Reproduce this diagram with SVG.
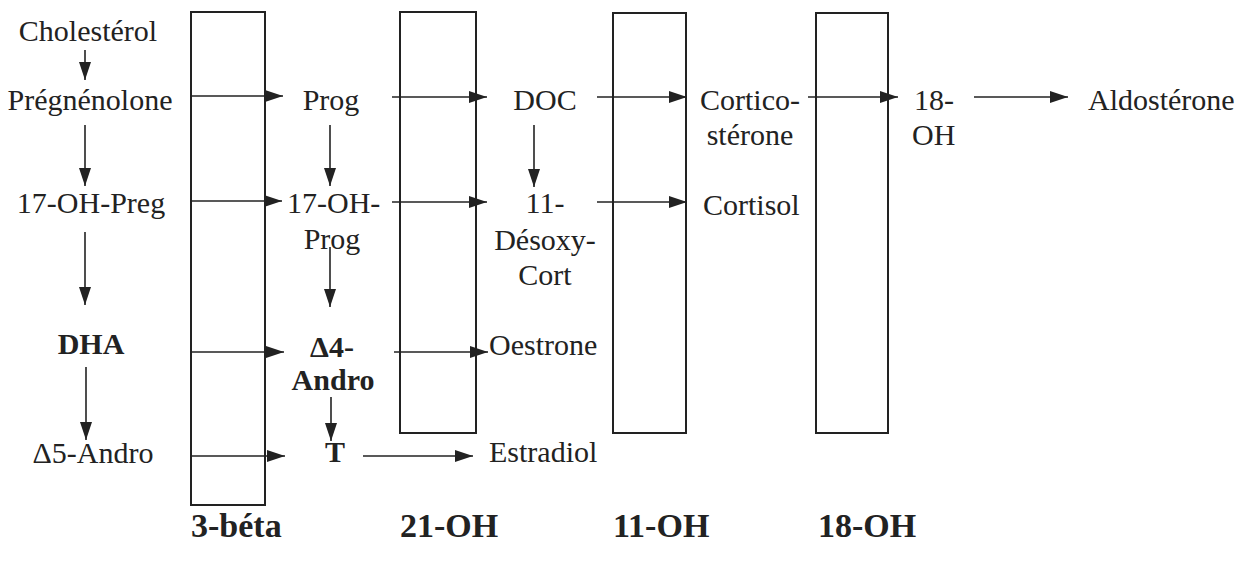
<svg xmlns="http://www.w3.org/2000/svg" width="1236" height="562" viewBox="0 0 1236 562" font-family="'Liberation Serif', 'DejaVu Serif', serif">
<style>
text{font-family:'Liberation Serif','DejaVu Serif',serif;font-size:30px;fill:#222}
.b{font-weight:bold}
.lab{font-weight:bold;font-size:34px}
.m{text-anchor:middle}
.box{fill:none;stroke:#222;stroke-width:2}
.c line{stroke:#222;stroke-width:1.6;marker-end:url(#ah)}
</style>
<defs>
<marker id="ah" markerUnits="userSpaceOnUse" markerWidth="18" markerHeight="12" refX="18" refY="6" orient="auto">
<path d="M0,0 L18,6 L0,12 z" fill="#222"/>
</marker>
</defs>
<rect width="1236" height="562" fill="#fff"/>
<g id="enzymes">
<g id="e3beta"><rect class="box" x="191" y="12" width="74" height="493"/><text class="lab" x="191" y="537">3-béta</text></g>
<g id="e21oh"><rect class="box" x="400" y="12" width="76" height="421"/><text class="lab" x="400" y="537">21-OH</text></g>
<g id="e11oh"><rect class="box" x="613" y="13" width="73" height="420"/><text class="lab" x="613" y="537">11-OH</text></g>
<g id="e18oh"><rect class="box" x="816" y="13" width="72" height="420"/><text class="lab" x="818" y="537">18-OH</text></g>
</g>
<g class="c" id="connectors">
<line x1="85" y1="50" x2="85" y2="80"/>
<line x1="85" y1="125" x2="85" y2="186"/>
<line x1="85" y1="232" x2="85" y2="305"/>
<line x1="86" y1="367" x2="86" y2="440"/>
<line x1="330" y1="125" x2="330" y2="186"/>
<line x1="330" y1="247" x2="330" y2="307"/>
<line x1="331" y1="397" x2="331" y2="441"/>
<line x1="534" y1="125" x2="534" y2="187"/>
<line x1="190" y1="96" x2="283" y2="96"/>
<line x1="392" y1="97" x2="487" y2="97"/>
<line x1="597" y1="97" x2="687" y2="97"/>
<line x1="808" y1="97" x2="898" y2="97"/>
<line x1="974" y1="97" x2="1068" y2="97"/>
<line x1="190" y1="201" x2="282" y2="201"/>
<line x1="392" y1="202" x2="487" y2="202"/>
<line x1="597" y1="202" x2="687" y2="202"/>
<line x1="192" y1="352" x2="284" y2="352"/>
<line x1="394" y1="352" x2="488" y2="352"/>
<line x1="192" y1="456" x2="285" y2="456"/>
<line x1="363" y1="456" x2="473" y2="456"/>
</g>
<g id="n-cholesterol"><text class="m" x="88" y="41">Cholestérol</text></g>
<g id="n-pregnenolone"><text class="m" x="90" y="110">Prégnénolone</text></g>
<g id="n-17ohpreg"><text class="m" x="91" y="213">17-OH-Preg</text></g>
<g id="n-dha"><text class="m b" x="91" y="354">DHA</text></g>
<g id="n-d5andro"><text class="m" x="93" y="463">Δ5-Andro</text></g>
<g id="n-prog"><text class="m" x="331" y="110">Prog</text></g>
<g id="n-17ohprog"><text x="287" y="213">17-OH-</text><text class="m" x="332" y="249">Prog</text></g>
<g id="n-d4andro"><text class="m b" x="332" y="357">Δ4-</text><text class="m b" x="333" y="390">Andro</text></g>
<g id="n-t"><text class="m b" x="335" y="462">T</text></g>
<g id="n-doc"><text class="m" x="545" y="110">DOC</text></g>
<g id="n-11desoxycort"><text class="m" x="545" y="213">11-</text><text class="m" x="545" y="250">Désoxy-</text><text class="m" x="545" y="285">Cort</text></g>
<g id="n-oestrone"><text x="489" y="355">Oestrone</text></g>
<g id="n-estradiol"><text x="489" y="462">Estradiol</text></g>
<g id="n-corticosterone"><text class="m" x="750" y="110">Cortico-</text><text class="m" x="750" y="145">stérone</text></g>
<g id="n-cortisol"><text x="703" y="215">Cortisol</text></g>
<g id="n-18oh"><text x="914" y="110">18-</text><text x="912" y="145">OH</text></g>
<g id="n-aldosterone"><text x="1088" y="110">Aldostérone</text></g>
</svg>
